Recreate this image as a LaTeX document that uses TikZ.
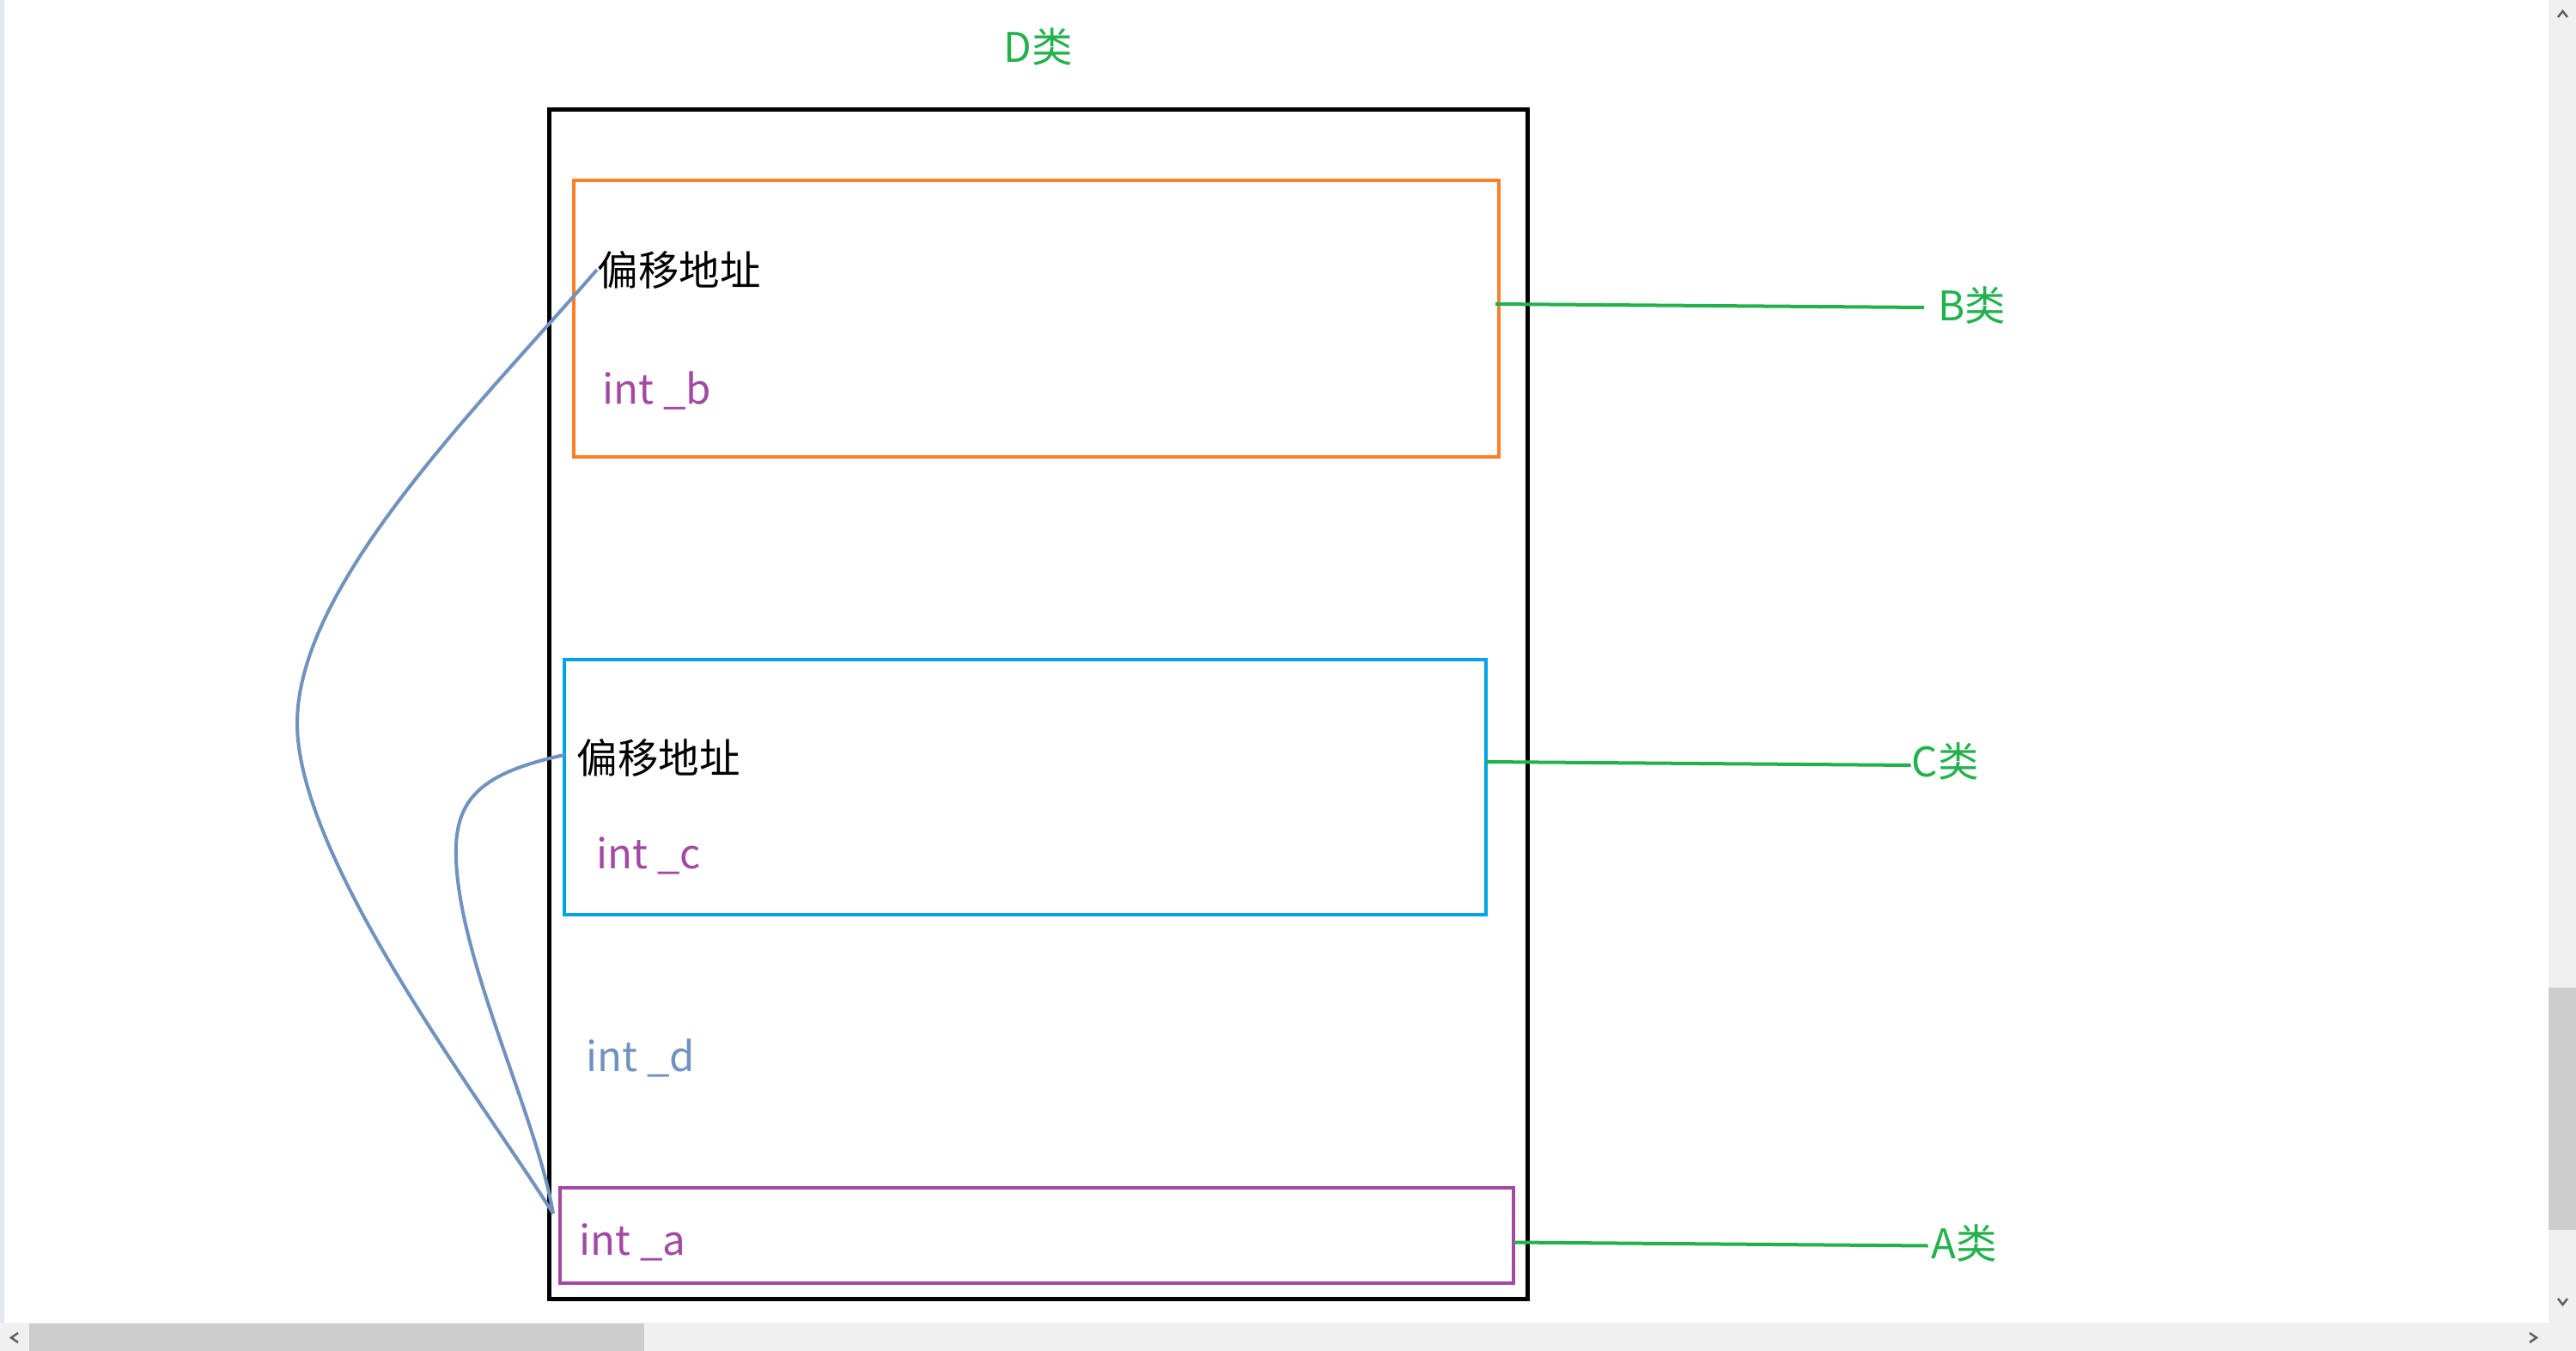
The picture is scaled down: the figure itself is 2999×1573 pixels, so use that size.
\documentclass[tikz,border=0pt]{standalone}
\usepackage{fontspec}
\setmainfont{Noto Sans CJK SC}
\usetikzlibrary{fit,calc}
\definecolor{pgreen}{HTML}{22B14C}
\definecolor{porange}{HTML}{FF7F27}
\definecolor{pblue}{HTML}{00A2E8}
\definecolor{ppurple}{HTML}{A349A4}
\definecolor{pgray}{HTML}{7092BE}
\definecolor{sbbg}{HTML}{F0F0F0}
\definecolor{sbthumb}{HTML}{CDCDCD}
\definecolor{sbarrow}{HTML}{606060}
\definecolor{leftstrip}{HTML}{DFE7F1}
\begin{document}
\begin{tikzpicture}[x=0.01cm,y=-0.01cm,
  txt/.style={inner sep=0pt,font=\fontsize{13.5pt}{16pt}\selectfont},
  lbl/.style={txt,text=pgreen},
  field/.style={txt,anchor=base west,text=ppurple},
  offs/.style={txt,anchor=west,text=black},
  boxD/.style={draw=black,line width=0.05cm,inner sep=0pt},
  boxB/.style={draw=porange,line width=0.04cm,inner sep=0pt},
  boxC/.style={draw=pblue,line width=0.04cm,inner sep=0pt},
  boxA/.style={draw=ppurple,line width=0.04cm,inner sep=0pt},
  gline/.style={draw=pgreen,line width=0.04cm},
  ptr/.style={draw=pgray,line width=0.04cm},
  chev/.style={draw=sbarrow,line width=0.025cm}]
\useasboundingbox (0,0) rectangle (2999,1573);
\fill[white] (0,0) rectangle (2999,1573);
% window chrome
\fill[leftstrip] (0,0) rectangle (5,1540);
\fill[sbbg] (0,1540) rectangle (2999,1573);
\fill[sbbg] (2967,0) rectangle (2999,1573);
\fill[sbthumb] (34,1541) rectangle (750,1573);
\fill[sbthumb] (2967,1150) rectangle (2999,1432);
\draw[chev] (21,1552) -- (13,1557.5) -- (21,1563);
\draw[chev] (2945,1552) -- (2953,1557.5) -- (2945,1563);
\draw[chev] (2978,20) -- (2983.5,13) -- (2989,20);
\draw[chev] (2978,1512) -- (2983.5,1519) -- (2989,1512);
% boxes
\node[boxD,fit={(639.6,128) (1778,1512)}] (Dbox) {};
\node[boxB,fit={(668,210.5) (1744.5,532)}] (Bbox) {};
\node[boxC,fit={(657,768) (1730,1065)}] (Cbox) {};
\node[boxA,fit={(652,1383) (1762,1494)}] (Abox) {};
% texts
\node[lbl,anchor=west] (Dlabel) at (1168,54) {D类};
\node[offs] (Boff) at (695,314) {偏移地址};
\node[field] (Bint) at (701,471) {int \_b};
\node[offs] (Coff) at (671,882) {偏移地址};
\node[field] (Cint) at (694,1011) {int \_c};
\node[field,text=pgray] (Dint) at (682,1247) {int \_d};
\node[field] (Aint) at (674,1461) {int \_a};
\node[lbl,anchor=west] (Blabel) at (2256,355) {B类};
\node[lbl,anchor=west] (Clabel) at (2225,886) {C类};
\node[lbl,anchor=west] (Alabel) at (2248,1447) {A类};
% green leader lines
\coordinate (bL) at (1741,354);
\coordinate (cL) at (1730,887);
\coordinate (aL) at (1763,1446.5);
\draw[gline] (bL) -- ($(Blabel.west)+(-16,3)$);
\draw[gline] (cL) -- ($(Clabel.west)+(-0.5,5)$);
\draw[gline] (aL) -- ($(Alabel.west)+(-3.5,3.5)$);
% offset pointers
\coordinate (aEnd) at (644,1413);
\coordinate (cStart) at (657,879);
\draw[ptr] (Boff.west) .. controls (560,470) and (346,680) .. (346,842)
  .. controls (346,1000) and (560,1280) .. (aEnd);
\draw[ptr] (cStart) .. controls (560,900) and (528,930) .. (531,1000)
  .. controls (535,1120) and (625,1300) .. (aEnd);
\end{tikzpicture}
\end{document}
